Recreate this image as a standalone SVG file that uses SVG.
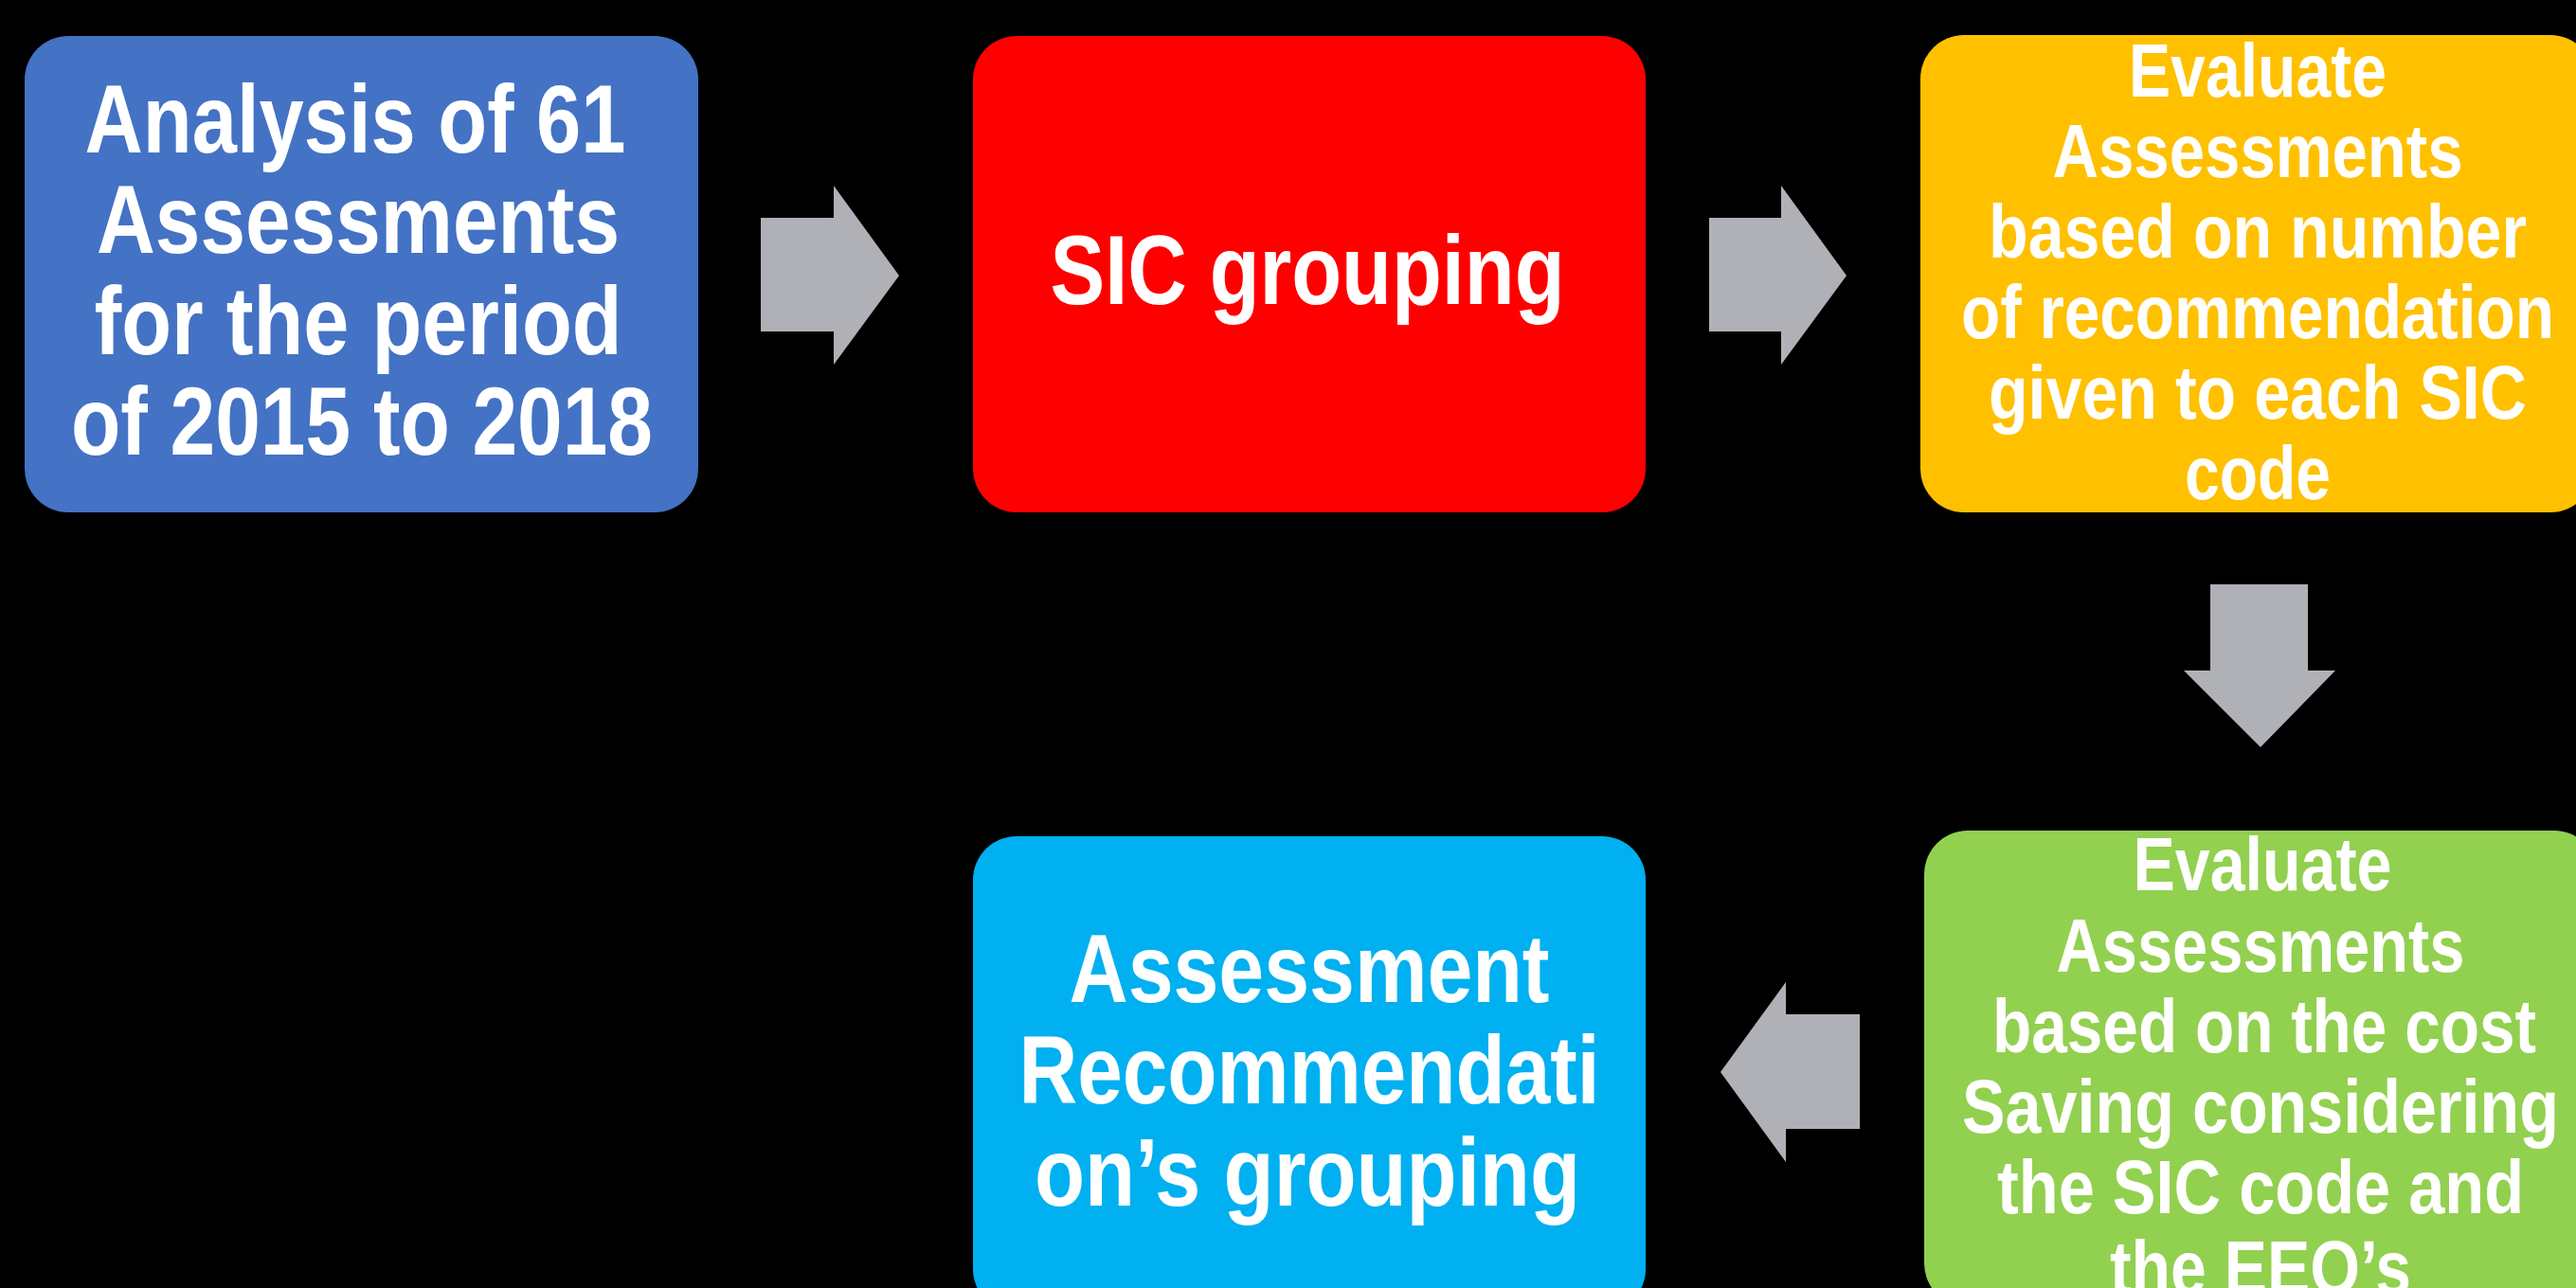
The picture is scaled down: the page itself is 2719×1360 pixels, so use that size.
<svg xmlns="http://www.w3.org/2000/svg" width="2719" height="1360" viewBox="0 0 2719 1360">
  <style>
    .box { stroke: none; }
    .t { font-family: "Liberation Sans", Arial, sans-serif; font-weight: bold; fill: #FFFFFF; text-anchor: middle; }
    .big { font-size: 102px; }
    .mid { font-size: 80px; }
    .arrow { fill: #B0B1B6; stroke: none; }
  </style>
  <rect x="0" y="0" width="2719" height="1360" fill="#000000"/>

  <g id="connectors">
    <polygon class="arrow" points="803,230 880,230 880,196 949,291 880,385 880,350 803,350"/>
    <polygon class="arrow" points="1804,230 1880,230 1880,196 1949,291 1880,385 1880,350 1804,350"/>
    <polygon class="arrow" points="2333,617 2436,617 2436,708 2465,708 2386,789 2305,708 2333,708"/>
    <polygon class="arrow" points="1963,1071 1885,1071 1885,1037 1816,1132 1885,1227 1885,1192 1963,1192"/>
  </g>

  <g id="node-analysis">
    <rect class="box" x="26" y="38" width="711" height="503" rx="46" ry="46" fill="#4472C4"/>
    <text class="t big" x="375" y="161" textLength="571" lengthAdjust="spacingAndGlyphs">Analysis of 61</text>
    <text class="t big" x="378" y="267" textLength="552" lengthAdjust="spacingAndGlyphs">Assessments</text>
    <text class="t big" x="378" y="374" textLength="557" lengthAdjust="spacingAndGlyphs">for the period</text>
    <text class="t big" x="382" y="480" textLength="614" lengthAdjust="spacingAndGlyphs">of 2015 to 2018</text>
  </g>

  <g id="node-sic">
    <rect class="box" x="1027" y="38" width="710" height="503" rx="46" ry="46" fill="#FF0000"/>
    <text class="t" style="font-size:104px" x="1380" y="321" textLength="543" lengthAdjust="spacingAndGlyphs">SIC grouping</text>
  </g>

  <g id="node-evaluate-number">
    <rect class="box" x="2027" y="37" width="711" height="504" rx="46" ry="46" fill="#FFC000"/>
    <text class="t mid" x="2383" y="102" textLength="272" lengthAdjust="spacingAndGlyphs">Evaluate</text>
    <text class="t mid" x="2383" y="187" textLength="433" lengthAdjust="spacingAndGlyphs">Assessments</text>
    <text class="t mid" x="2383" y="272" textLength="568" lengthAdjust="spacingAndGlyphs">based on number</text>
    <text class="t mid" x="2383" y="357" textLength="626" lengthAdjust="spacingAndGlyphs">of recommendation</text>
    <text class="t mid" x="2383" y="442" textLength="568" lengthAdjust="spacingAndGlyphs">given to each SIC</text>
    <text class="t mid" x="2383" y="527" textLength="154" lengthAdjust="spacingAndGlyphs">code</text>
  </g>

  <g id="node-evaluate-cost">
    <rect class="box" x="2031" y="877" width="711" height="503" rx="46" ry="46" fill="#92D050"/>
    <text class="t mid" x="2388" y="940" textLength="273" lengthAdjust="spacingAndGlyphs">Evaluate</text>
    <text class="t mid" x="2386" y="1026" textLength="431" lengthAdjust="spacingAndGlyphs">Assessments</text>
    <text class="t mid" x="2390" y="1111" textLength="574" lengthAdjust="spacingAndGlyphs">based on the cost</text>
    <text class="t mid" x="2386" y="1196" textLength="630" lengthAdjust="spacingAndGlyphs">Saving considering</text>
    <text class="t mid" x="2386" y="1281" textLength="556" lengthAdjust="spacingAndGlyphs">the SIC code and</text>
    <text class="t mid" x="2386" y="1366" textLength="318" lengthAdjust="spacingAndGlyphs">the EEO’s</text>
  </g>

  <g id="node-recommendation">
    <rect class="box" x="1027" y="883" width="710" height="503" rx="46" ry="46" fill="#00B0F0"/>
    <text class="t big" x="1382" y="1058" textLength="507" lengthAdjust="spacingAndGlyphs">Assessment</text>
    <text class="t big" x="1382" y="1165" textLength="613" lengthAdjust="spacingAndGlyphs">Recommendati</text>
    <text class="t big" x="1380" y="1273" textLength="576" lengthAdjust="spacingAndGlyphs">on’s grouping</text>
  </g>
</svg>
